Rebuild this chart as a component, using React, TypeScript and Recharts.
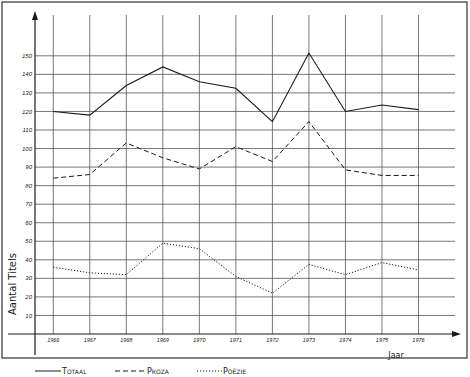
import React from 'react';
import { LineChart, Line, XAxis, YAxis, CartesianGrid } from 'recharts';

const years = [1966, 1967, 1968, 1969, 1970, 1971, 1972, 1973, 1974, 1975, 1976];
const totaal = [120, 118, 134, 144, 136, 132.5, 114.5, 151.5, 120, 123.5, 121];
const proza = [84, 86, 103, 95, 89, 101, 93, 114.5, 88.5, 85.5, 85.5];
const poezie = [36, 33, 32, 49, 46, 31, 22, 37.5, 32, 38.5, 34.5];
const yTicks = [10, 20, 30, 40, 50, 60, 70, 80, 90, 100, 110, 120, 130, 140, 150];

const seriesNames = ['Totaal', 'Proza', 'Poëzie'];

const data = years.map((year, i) => ({
  year,
  totaal: totaal[i],
  proza: proza[i],
  poezie: poezie[i],
}));

const ink = '#1a1a1a';
const handFont = '"DejaVu Sans", sans-serif';
const tickFont = '"Liberation Sans", sans-serif';

const App = () => {
  return (
    <div style={{ position: 'absolute', left: 0, top: 0, width: 470, height: 377, background: '#fff' }}>
      <LineChart width={470} height={377} data={data} margin={{ top: 15, right: 15, bottom: 0, left: 0 }}>
        <CartesianGrid stroke="#555" strokeWidth={0.8} horizontalValues={yTicks} verticalValues={years} />
        <XAxis
          dataKey="year"
          type="number"
          domain={[1965.5, 1977]}
          ticks={years}
          interval={0}
          height={43}
          axisLine={false}
          tickLine={false}
          tickSize={0}
          tickMargin={4}
          tick={{ fontSize: 5.5, fill: ink, fontStyle: 'italic', fontFamily: tickFont }}
        />
        <YAxis
          domain={[0, 172]}
          ticks={yTicks}
          interval={0}
          width={35}
          axisLine={false}
          tickLine={false}
          tickSize={0}
          tickMargin={3}
          tick={{ fontSize: 6, fill: ink, fontStyle: 'italic', fontFamily: tickFont }}
        />
        <Line type="linear" dataKey="totaal" name={seriesNames[0]} stroke={ink} strokeWidth={1.1} dot={false} isAnimationActive={false} />
        <Line type="linear" dataKey="proza" name={seriesNames[1]} stroke={ink} strokeWidth={1} strokeDasharray="5 3" dot={false} isAnimationActive={false} />
        <Line type="linear" dataKey="poezie" name={seriesNames[2]} stroke={ink} strokeWidth={1} strokeDasharray="1.2 1.8" dot={false} isAnimationActive={false} />
      </LineChart>

      {/* frame, arrows, labels and legend drawn by hand like the original */}
      <svg width={470} height={377} style={{ position: 'absolute', left: 0, top: 0, pointerEvents: 'none' }}>
        <rect x={2} y={2} width={465} height={356} fill="none" stroke="#333" strokeWidth={1.2} />
        <line x1={8} y1={334} x2={458} y2={334} stroke={ink} strokeWidth={1.2} />
        <path d="M452,331 L461,334 L452,337 Z" fill={ink} />
        <line x1={35} y1={355} x2={35} y2={16} stroke={ink} strokeWidth={1.2} />
        <path d="M32,20 L35,11 L38,20 Z" fill={ink} />
        <text
          x={13}
          y={284}
          transform="rotate(-90 13 284)"
          textAnchor="middle"
          dominantBaseline="middle"
          fontSize={10}
          fontFamily={handFont}
          fill={ink}
        >
          Aantal Titels
        </text>
        <text x={396} y={355} textAnchor="middle" dominantBaseline="middle" fontSize={8} fontFamily={handFont} fill={ink}>
          Jaar
        </text>

        <line x1={35} y1={371} x2={61} y2={371} stroke={ink} strokeWidth={1} />
        <text x={62} y={371} dominantBaseline="middle" fontSize={8} fontFamily={handFont} style={{ fontVariant: 'small-caps' }} fill={ink}>
          {seriesNames[0]}
        </text>
        <line x1={115} y1={371} x2={146} y2={371} stroke={ink} strokeWidth={1} strokeDasharray="5 3" />
        <text x={147} y={371} dominantBaseline="middle" fontSize={8} fontFamily={handFont} style={{ fontVariant: 'small-caps' }} fill={ink}>
          {seriesNames[1]}
        </text>
        <line x1={197} y1={371} x2={222} y2={371} stroke={ink} strokeWidth={1} strokeDasharray="1.2 1.8" />
        <text x={223} y={371} dominantBaseline="middle" fontSize={8} fontFamily={handFont} style={{ fontVariant: 'small-caps' }} fill={ink}>
          {seriesNames[2]}
        </text>
      </svg>
    </div>
  );
};

export default App;
